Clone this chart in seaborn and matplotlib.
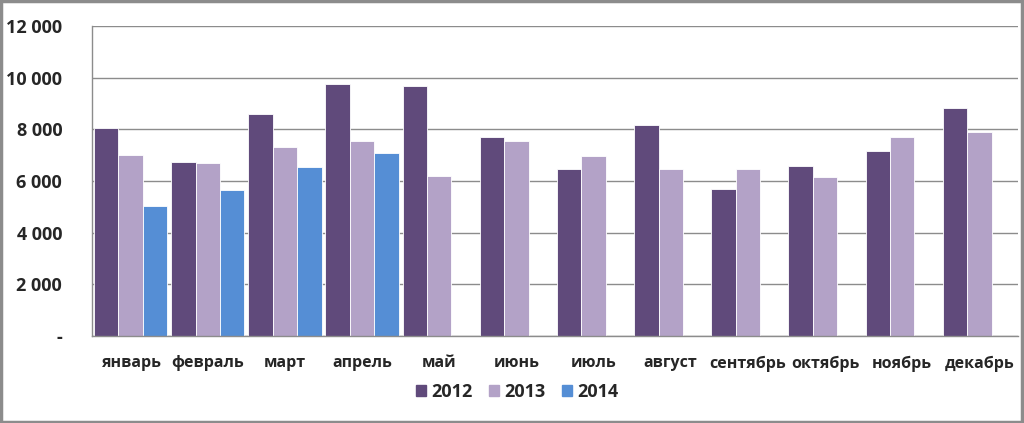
import matplotlib
matplotlib.use("Agg")
import matplotlib.pyplot as plt
import matplotlib.patches as mpatches
from matplotlib.ticker import FuncFormatter, FixedLocator
import seaborn as sns
import pandas as pd
import numpy as np

# values
months = ["январь", "февраль", "март", "апрель", "май", "июнь",
          "июль", "август", "сентябрь", "октябрь", "ноябрь", "декабрь"]
years = ["2012", "2013", "2014"]
v2012 = [8050, 6720, 8590, 9740, 9670, 7690, 6480, 8160, 5680, 6580, 7150, 8840]
v2013 = [6990, 6690, 7300, 7550, 6180, 7550, 6970, 6480, 6470, 6140, 7700, 7900]
v2014 = [5030, 5650, 6540, 7090, np.nan, np.nan, np.nan, np.nan, np.nan, np.nan, np.nan, np.nan]
colors = ["#604A7B", "#B3A2C7", "#558ED5"]

df = pd.DataFrame({
    "month": months * 3,
    "year": [y for y in years for _ in months],
    "value": v2012 + v2013 + v2014,
})

sns.set_style("white")
plt.rcParams['font.family'] = ['Open Sans', 'DejaVu Sans']

fig = plt.figure(figsize=(10.24, 4.23), dpi=100)
ax = fig.add_axes([92 / 1024, 87 / 423, 926 / 1024, 310 / 423])

sns.barplot(data=df, x="month", y="value", hue="year", hue_order=years,
            order=months, palette=colors, width=0.95, saturation=1,
            edgecolor="white", linewidth=0.6, ax=ax, legend=False)

ax.set_ylim(0, 12000)
ax.set_xlim(-0.5, 11.5)
ax.set_yticks(range(0, 12001, 2000))
ax.yaxis.set_major_formatter(FuncFormatter(
    lambda v, p: "-" if v == 0 else f"{int(v):,}".replace(",", " ")))
ax.yaxis.grid(True, color="#8c8c8c", lw=1)
ax.set_axisbelow(True)
ax.set_xlabel("")
ax.set_ylabel("")

for s in ["top", "right"]:
    ax.spines[s].set_visible(False)
for s in ["left", "bottom"]:
    ax.spines[s].set_color("#8c8c8c")
    ax.spines[s].set_linewidth(1)

ax.tick_params(axis="x", which="major", length=0, pad=14, labelsize=11.5)
ax.xaxis.set_minor_locator(FixedLocator(np.arange(-0.5, 12, 1)))
ax.tick_params(axis="x", which="minor", length=4, color="#8c8c8c", width=1)
ax.tick_params(axis="y", length=4, color="#8c8c8c", width=1, pad=17.5, labelsize=13)
for lab in ax.get_xticklabels() + ax.get_yticklabels():
    lab.set_fontweight("bold")

handles = [mpatches.Patch(color=c, label=y) for c, y in zip(colors, years)]
fig.legend(handles=handles, loc="center", bbox_to_anchor=(0.505, 0.073), ncol=3,
           frameon=False, handlelength=0.55, handleheight=0.55, handletextpad=0.3,
           columnspacing=0.9, prop={"weight": "bold", "size": 13})

# outer frame of the chart area
fig.patches.append(mpatches.Rectangle((0.001, 0.003), 0.997, 0.994, transform=fig.transFigure,
                                      fill=False, edgecolor="#8c8c8c", lw=2.5))

fig.savefig("out.png", dpi=100)
